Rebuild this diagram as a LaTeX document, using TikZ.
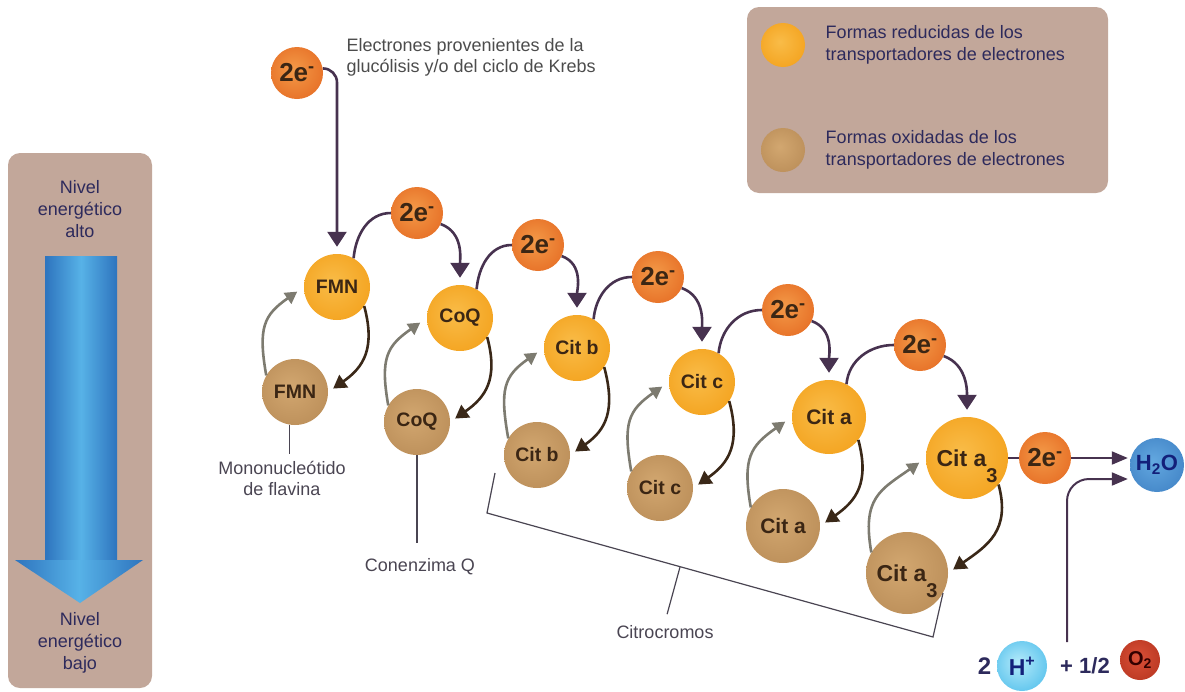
\documentclass[tikz,border=0pt]{standalone}
\usepackage{fontspec}
\setmainfont{Liberation Sans}
\usetikzlibrary{arrows.meta,positioning}

\definecolor{panel}{HTML}{C2A79A}
\definecolor{hopline}{HTML}{47324F}
\definecolor{dropline}{HTML}{3A2818}
\definecolor{riseline}{HTML}{7D7B70}
\definecolor{carriertext}{HTML}{3B2614}
\definecolor{notetext}{HTML}{4A4552}
\definecolor{keytext}{HTML}{2D2A5C}
\definecolor{navy}{HTML}{13207A}
\definecolor{redA}{HTML}{F9BC48}
\definecolor{redB}{HTML}{F3A01A}
\definecolor{redC}{HTML}{EB920E}
\definecolor{oxA}{HTML}{D2A770}
\definecolor{oxB}{HTML}{B98C57}
\definecolor{oxC}{HTML}{A97D48}
\definecolor{eA}{HTML}{F39A48}
\definecolor{eB}{HTML}{E56A22}
\definecolor{eC}{HTML}{D9581A}
\definecolor{waterA}{HTML}{63A8E0}
\definecolor{waterB}{HTML}{2F70B8}
\definecolor{protA}{HTML}{B4EAFA}
\definecolor{protB}{HTML}{22AAE4}
\definecolor{oxyA}{HTML}{DB5038}
\definecolor{oxyB}{HTML}{A42814}
\definecolor{flowA}{HTML}{2E74BE}
\definecolor{flowB}{HTML}{57B2E7}

\pgfdeclareradialshading{redform}{\pgfpoint{-4bp}{4bp}}{color(0bp)=(redA); color(34bp)=(redB); color(50bp)=(redC)}
\pgfdeclareradialshading{oxform}{\pgfpoint{-4bp}{4bp}}{color(0bp)=(oxA); color(34bp)=(oxB); color(50bp)=(oxC)}
\pgfdeclareradialshading{eform}{\pgfpoint{-4bp}{4bp}}{color(0bp)=(eA); color(34bp)=(eB); color(50bp)=(eC)}
\pgfdeclareradialshading{waterform}{\pgfpoint{-4bp}{4bp}}{color(0bp)=(waterA); color(50bp)=(waterB)}
\pgfdeclareradialshading{protform}{\pgfpoint{-4bp}{4bp}}{color(0bp)=(protA); color(50bp)=(protB)}
\pgfdeclareradialshading{oxyform}{\pgfpoint{-4bp}{4bp}}{color(0bp)=(oxyA); color(50bp)=(oxyB)}

\begin{document}
\begin{tikzpicture}[x=1pt, y=1pt,
  reduced/.style={circle, inner sep=0pt, minimum size=66pt, shading=redform, text=carriertext,
    font=\bfseries\fontsize{19.5}{20}\selectfont},
  oxidized/.style={reduced, shading=oxform},
  electron/.style={circle, inner sep=0pt, minimum size=52pt, shading=eform, text=carriertext,
    font=\bfseries\fontsize{26}{26}\selectfont},
  hop/.style={color=hopline, line width=2.6pt},
  hoparrow/.style={hop, -{Triangle[length=15pt,width=19pt]}, shorten >=7pt},
  feed/.style={color=hopline, line width=2pt, -{Triangle[length=16pt,width=13pt]}, shorten >=2pt},
  drop/.style={color=dropline, line width=2.6pt, -{Triangle[length=13pt,width=15pt]}, shorten >=6pt, looseness=1.2},
  rise/.style={color=riseline, line width=2.6pt, -{Triangle[length=12pt,width=13pt]}, shorten >=8pt, looseness=1.3},
  note/.style={text=notetext, font=\fontsize{18}{21}\selectfont, align=center},
  keynote/.style={text=keytext, font=\fontsize{18}{22}\selectfont, align=left},
  bracket/.style={draw=notetext, line width=1.2pt}]
\useasboundingbox (0,0) rectangle (1185,-691);

% energy scale
\fill[panel, rounded corners=12pt] (8,-153) rectangle (152,-688);
\node[keynote, align=center] (alto) at (80,-209) {Nivel\\energético\\alto};
\node[keynote, align=center] (bajo) at (80,-643) {Nivel\\energético\\bajo};
\shade[left color=flowA, right color=flowA, middle color=flowB] (45,-256) rectangle (117,-561);
\shade[left color=flowA, right color=flowA, middle color=flowB] (15,-560) -- (143,-560) -- (80,-603) -- cycle;

% key
\fill[panel, rounded corners=12pt] (747,-7) rectangle (1108,-193);
\node[reduced, minimum size=44pt] (keyR) at (783,-45) {};
\node[oxidized, minimum size=44pt] (keyO) at (783,-150) {};
\node[keynote, right=17pt of keyR] (keyRtext) {Formas reducidas de los\\transportadores de electrones};
\node[keynote, right=17pt of keyO] (keyOtext) {Formas oxidadas de los\\transportadores de electrones};

% carriers
\node[electron] (e0) at (297,-73) {2e\textsuperscript{-}};
\node[note, align=left, anchor=west, text=black!70] (source) at (343,-57) {Electrones provenientes de la\\glucólisis y/o del ciclo de Krebs};

\node[reduced] (fmnR) at (337,-287) {FMN};
\node[reduced] (coqR) at (460,-318) {CoQ};
\node[reduced] (citbR) at (577,-348) {Cit b};
\node[reduced] (citcR) at (702,-382) {Cit c};
\node[reduced, minimum size=74pt, font=\bfseries\fontsize{21}{21}\selectfont] (citaR) at (829,-417) {Cit a};
\node[reduced, minimum size=82pt, font=\bfseries\fontsize{23}{23}\selectfont] (cita3R) at (967,-458) {Cit a\smash{\raisebox{-16pt}{\fontsize{20}{20}\selectfont 3}}};

\node[oxidized] (fmnO) at (295,-392) {FMN};
\node[oxidized] (coqO) at (417,-422) {CoQ};
\node[oxidized] (citbO) at (537,-455) {Cit b};
\node[oxidized] (citcO) at (660,-488) {Cit c};
\node[oxidized, minimum size=74pt, font=\bfseries\fontsize{21}{21}\selectfont] (citaO) at (783,-526) {Cit a};
\node[oxidized, minimum size=82pt, font=\bfseries\fontsize{23}{23}\selectfont] (cita3O) at (907,-573) {Cit a\smash{\raisebox{-16pt}{\fontsize{20}{20}\selectfont 3}}};

\node[electron] (e1) at (417,-213) {2e\textsuperscript{-}};
\node[electron] (e2) at (538,-245) {2e\textsuperscript{-}};
\node[electron] (e3) at (658,-277) {2e\textsuperscript{-}};
\node[electron] (e4) at (788,-310) {2e\textsuperscript{-}};
\node[electron] (e5) at (920,-345) {2e\textsuperscript{-}};
\node[electron] (e6) at (1045,-458) {2e\textsuperscript{-}};

\node[circle, inner sep=0pt, minimum size=54pt, shading=waterform, text=navy,
  font=\bfseries\fontsize{22}{22}\selectfont] (water) at (1157,-465) {H\textsubscript{2}O};
\node[circle, inner sep=0pt, minimum size=50pt, shading=protform, text=navy,
  font=\bfseries\fontsize{23}{23}\selectfont] (proton) at (1022,-666) {H\textsuperscript{+}};
\node[circle, inner sep=0pt, minimum size=40pt, shading=oxyform, text=black!80!red,
  font=\bfseries\fontsize{20}{20}\selectfont] (oxygen) at (1140,-660) {O\textsubscript{2}};
\node[text=keytext, font=\bfseries\fontsize{24}{24}\selectfont, left=2pt of proton] (two) {2};
\node[text=keytext, font=\bfseries\fontsize{22}{22}\selectfont] (half) at (1085,-666) {+ 1/2};

% electron flow
\draw[hoparrow, rounded corners=14pt] (e0.10) -| (fmnR.north);
\path[hop]
  (fmnR.60) edge[out=85, in=180] (e1.west)
  (coqR.60) edge[out=85, in=180] (e2.west)
  (citbR.60) edge[out=85, in=180] (e3.west)
  (citcR.60) edge[out=85, in=180] (e4.west)
  (citaR.62) edge[out=85, in=180] (e5.west)
  (cita3R.east) edge (e6.west);
\path[hoparrow]
  (e1.-25) edge[out=-20, in=90] (coqR.north)
  (e2.-25) edge[out=-20, in=90] (citbR.north)
  (e3.-25) edge[out=-20, in=90] (citcR.north)
  (e4.-25) edge[out=-20, in=90] (citaR.north)
  (e5.-25) edge[out=-20, in=90] (cita3R.north);

% reduction and oxidation
\path[drop]
  (fmnR.-35) edge[out=-75, in=35] (fmnO.east)
  (coqR.-35) edge[out=-75, in=35] (coqO.east)
  (citbR.-35) edge[out=-75, in=35] (citbO.east)
  (citcR.-35) edge[out=-75, in=35] (citcO.east)
  (citaR.-38) edge[out=-75, in=35] (citaO.east)
  (cita3R.-40) edge[out=-75, in=35] (cita3O.east);
\path[rise]
  (fmnO.150) edge[out=100, in=215] (fmnR.west)
  (coqO.150) edge[out=100, in=215] (coqR.west)
  (citbO.150) edge[out=100, in=215] (citbR.west)
  (citcO.150) edge[out=100, in=215] (citcR.west)
  (citaO.150) edge[out=100, in=215] (citaR.west)
  (cita3O.150) edge[out=100, in=215] (cita3R.west);

% water
\draw[feed] (e6.east) -- (e6.east -| water.west);
\coordinate (lift) at (1067,-642);
\draw[feed, rounded corners=22pt] (lift) |- ([yshift=-14pt]water.west);

% names
\node[note] (fmnlab) at (282,-478) {Mononucleótido\\de flavina};
\draw[bracket, shorten >=3pt] (fmnO.260) -- (fmnO.260 |- fmnlab.north);
\node[note] (coqlab) at (420,-567) {Conenzima Q};
\draw[bracket, shorten >=12pt] (coqO.south) -- (coqO.south |- coqlab.north);
\node[note] (citlab) at (665,-632) {Citrocromos};
\draw[bracket] (495,-473) -- (487,-513) -- (933,-637) -- (943,-593);
\coordinate (citmid) at (680,-567);
\draw[bracket, shorten >=8pt] (citmid) -- (citlab.north);
\end{tikzpicture}
\end{document}
